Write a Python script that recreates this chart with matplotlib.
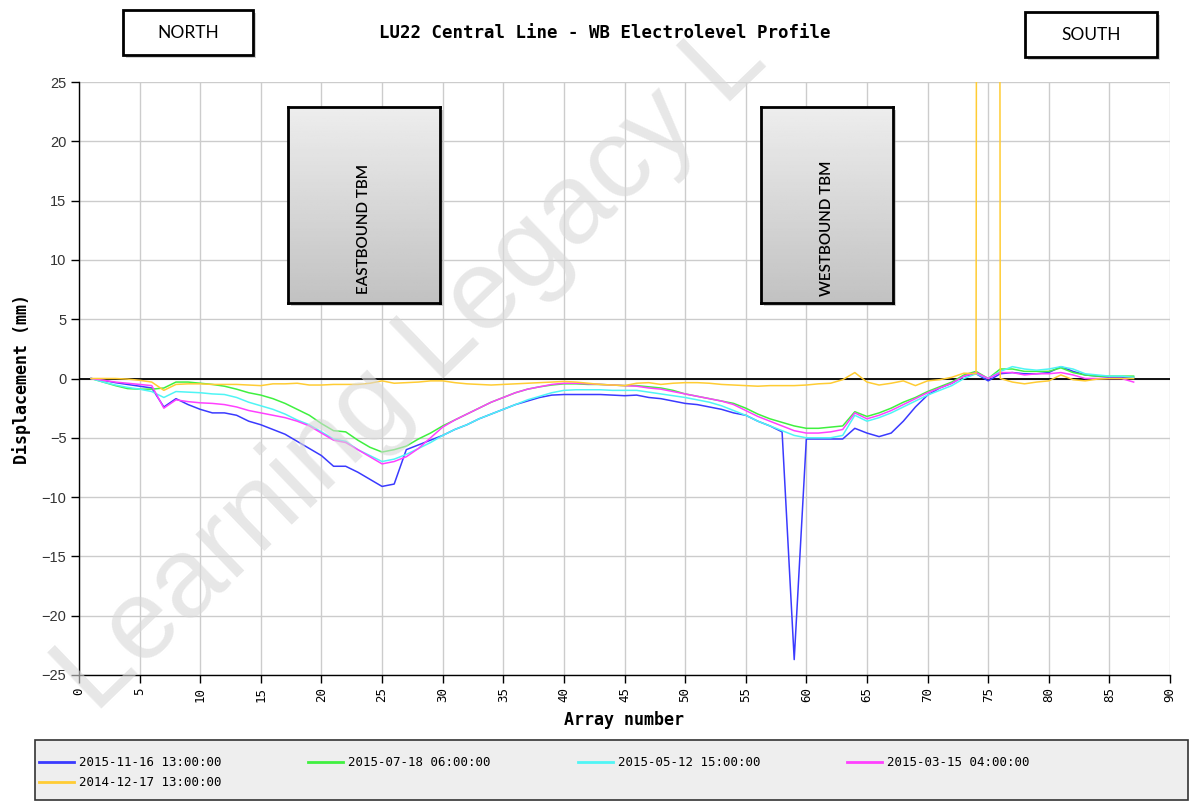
import numpy as np
import matplotlib
matplotlib.use('Agg')
import matplotlib.pyplot as plt
from matplotlib.patches import Rectangle

# electrolevel readings, arrays 1..87 (mm)
array_no = list(range(1, 88))

blue_2015_11_16 = [
    0.0, -0.15, -0.35, -0.5, -0.65, -0.8, -2.4, -1.7, -2.2, -2.6,
    -2.9, -2.9, -3.1, -3.6, -3.9, -4.3, -4.7, -5.3, -5.9, -6.5,
    -7.4, -7.4, -7.9, -8.5, -9.1, -8.9, -6.0, -5.6, -5.2, -4.8,
    -4.3, -3.9, -3.4, -3.0, -2.6, -2.2, -1.9, -1.6, -1.4, -1.35,
    -1.35, -1.35, -1.35, -1.4, -1.45, -1.4, -1.6, -1.7, -1.9, -2.1,
    -2.2, -2.4, -2.6, -2.9, -3.1, -3.6, -4.0, -4.5, -23.7, -5.1,
    -5.1, -5.1, -5.1, -4.2, -4.6, -4.9, -4.6, -3.6, -2.4, -1.4,
    -0.8, -0.4, 0.2, 0.4, -0.2, 0.4, 0.5, 0.4, 0.4, 0.5,
    1.0, 0.6, 0.3, 0.2, 0.1, 0.1, 0.1,
]
green_2015_07_18 = [
    0.0, -0.3, -0.6, -0.85, -0.9, -0.9, -0.8, -0.3, -0.3, -0.4,
    -0.5, -0.65, -0.9, -1.2, -1.4, -1.7, -2.1, -2.6, -3.1, -3.8,
    -4.4, -4.5, -5.2, -5.8, -6.2, -6.0, -5.7, -5.1, -4.6, -4.0,
    -3.5, -3.0, -2.5, -2.0, -1.6, -1.2, -0.9, -0.7, -0.55, -0.45,
    -0.45, -0.5, -0.5, -0.55, -0.6, -0.6, -0.7, -0.8, -1.0, -1.3,
    -1.5, -1.7, -1.9, -2.1, -2.5, -3.0, -3.4, -3.7, -4.0, -4.2,
    -4.2, -4.1, -4.0, -2.8, -3.2, -2.9, -2.5, -2.0, -1.6, -1.1,
    -0.7, -0.3, 0.3, 0.6, 0.0, 0.8, 0.8, 0.6, 0.6, 0.6,
    0.9, 0.5, 0.3, 0.2, 0.2, 0.2, 0.2,
]
cyan_2015_05_12 = [
    0.0, -0.3, -0.55, -0.75, -0.9, -1.1, -1.6, -1.1, -1.15, -1.2,
    -1.3, -1.35, -1.6, -2.0, -2.3, -2.6, -3.0, -3.5, -3.9, -4.5,
    -5.1, -5.3, -6.0, -6.5, -7.0, -6.8, -6.4, -5.9, -5.4, -4.8,
    -4.3, -3.9, -3.4, -3.0, -2.6, -2.2, -1.8, -1.5, -1.2, -1.0,
    -0.95, -0.95, -0.95, -1.0, -1.0, -1.0, -1.15, -1.3, -1.45, -1.6,
    -1.8, -2.0, -2.3, -2.7, -3.1, -3.6, -4.0, -4.4, -4.8, -5.0,
    -5.0, -5.0, -4.8, -3.1, -3.6, -3.3, -2.9, -2.4, -1.9, -1.4,
    -1.0, -0.6, 0.0, 0.4, 0.0, 0.6, 1.0, 0.8, 0.7, 0.8,
    1.0, 0.8, 0.4, 0.3, 0.2, 0.2, 0.1,
]
magenta_2015_03_15 = [
    0.0, -0.15, -0.3, -0.4, -0.5, -0.6, -2.5, -1.8, -1.95, -2.05,
    -2.1, -2.2, -2.4, -2.7, -2.9, -3.1, -3.3, -3.6, -4.0, -4.6,
    -5.2, -5.4, -6.0, -6.6, -7.2, -7.0, -6.6, -5.9, -5.0, -4.1,
    -3.5, -3.0, -2.5, -2.0, -1.6, -1.2, -0.9, -0.7, -0.5, -0.4,
    -0.4, -0.45, -0.5, -0.55, -0.6, -0.65, -0.8, -0.9, -1.1, -1.3,
    -1.5, -1.7, -1.9, -2.2, -2.7, -3.2, -3.6, -4.0, -4.4, -4.6,
    -4.6, -4.5, -4.3, -2.9, -3.4, -3.1, -2.7, -2.2, -1.7, -1.2,
    -0.8, -0.4, 0.2, 0.5, 0.0, 0.5, 0.5, 0.3, 0.4, 0.4,
    0.5, 0.3, 0.0, 0.0, 0.0, 0.0, -0.3,
]
yellow_2014_12_17 = [
    0.0, 0.0, 0.0, -0.05, -0.15, -0.3, -1.0, -0.5, -0.45, -0.45,
    -0.5, -0.5, -0.5, -0.55, -0.6, -0.45, -0.45, -0.4, -0.55, -0.55,
    -0.5, -0.5, -0.5, -0.4, -0.2, -0.4, -0.35, -0.3, -0.2, -0.2,
    -0.35, -0.45, -0.5, -0.55, -0.5, -0.45, -0.4, -0.35, -0.3, -0.25,
    -0.3, -0.4, -0.5, -0.55, -0.6, -0.4, -0.35, -0.5, -0.4, -0.35,
    -0.35, -0.4, -0.5, -0.55, -0.6, -0.65, -0.6, -0.6, -0.6, -0.55,
    -0.45, -0.4, -0.1, 0.5, -0.3, -0.55, -0.4, -0.2, -0.6, -0.2,
    -0.1, 0.1, 0.45, 0.4, 900.0, 0.0, -0.3, -0.45, -0.3, -0.2,
    0.3, -0.1, -0.2, -0.05, 0.0, 0.0, 0.0,
]

series = [
    ('2015-11-16 13:00:00', blue_2015_11_16, '#3a3aff'),
    ('2015-07-18 06:00:00', green_2015_07_18, '#3ff03f'),
    ('2015-05-12 15:00:00', cyan_2015_05_12, '#4ff5f5'),
    ('2015-03-15 04:00:00', magenta_2015_03_15, '#ff40ff'),
    ('2014-12-17 13:00:00', yellow_2014_12_17, '#ffcc33'),
]

W, H = 1192, 802
MONO = 'DejaVu Sans Mono'


def fig_box(x0, y0, x1, y1):
    # pixel box (image coords, y down) -> figure fraction [l, b, w, h]
    return [x0 / W, 1 - y1 / H, (x1 - x0) / W, (y1 - y0) / H]


fig = plt.figure(figsize=(W / 100, H / 100), dpi=100)
ax = fig.add_axes(fig_box(79, 82, 1170, 675))

lines = {}
for label, vals, color in series:
    ln, = ax.plot(array_no, vals, color=color, lw=1.1, label=label, zorder=3)
    lines[label] = ln

ax.axhline(0, color='black', lw=1.3, zorder=2)
ax.set_xlim(0, 90)
ax.set_ylim(-25, 25)
ax.set_xticks(range(0, 91, 5))
ax.set_yticks(range(-25, 26, 5))
ax.grid(True, color='#cccccc', lw=1.0, zorder=0)
ax.set_axisbelow(True)
for side in ['top', 'right']:
    ax.spines[side].set_visible(False)
for side in ['left', 'bottom']:
    ax.spines[side].set_color('black')
    ax.spines[side].set_linewidth(1.0)
ax.tick_params(axis='both', direction='out', length=6, width=1, color='black')
ax.tick_params(axis='y', labelsize=10.5, labelcolor='#333333', pad=3)
ax.tick_params(axis='x', labelsize=9, labelrotation=90, pad=3)
for t in ax.get_yticklabels():
    t.set_fontfamily('Liberation Sans')
for t in ax.get_xticklabels():
    t.set_fontfamily(MONO)

ax.set_xlabel('Array number', fontfamily=MONO, fontweight='bold', fontsize=12, labelpad=6)
ax.set_ylabel('Displacement (mm)', fontfamily=MONO, fontweight='bold', fontsize=12, labelpad=8)

fig.text(605 / W, 1 - 33 / H, 'LU22 Central Line - WB Electrolevel Profile',
         fontfamily=MONO, fontweight='bold', fontsize=12.5, ha='center', va='center')


def label_box(x0, y0, x1, y1, text):
    fig.patches.append(Rectangle((x0 / W + 3 / W, 1 - y1 / H - 3 / H), (x1 - x0) / W, (y1 - y0) / H,
                                 transform=fig.transFigure, facecolor='#999999', alpha=0.45,
                                 edgecolor='none', zorder=4))
    fig.patches.append(Rectangle((x0 / W, 1 - y1 / H), (x1 - x0) / W, (y1 - y0) / H,
                                 transform=fig.transFigure, facecolor='white',
                                 edgecolor='black', lw=2, zorder=5))
    fig.text((x0 + x1) / 2 / W, 1 - (y0 + y1) / 2 / H, text, fontfamily='Lato',
             fontsize=12.5, ha='center', va='center', zorder=6)


label_box(123, 10, 253, 55, 'NORTH')
label_box(1025, 12, 1157, 57, 'SOUTH')


def tbm_box(x0, y0, x1, y1, text):
    fig.patches.append(Rectangle((x0 / W + 3 / W, 1 - y1 / H - 3 / H), (x1 - x0) / W, (y1 - y0) / H,
                                 transform=fig.transFigure, facecolor='#888888', alpha=0.4,
                                 edgecolor='none', zorder=1))
    bax = fig.add_axes(fig_box(x0, y0, x1, y1))
    bax.set_zorder(2)
    grad = np.linspace(0.93, 0.76, 100).reshape(-1, 1)
    bax.imshow(grad, aspect='auto', cmap='gray', vmin=0, vmax=1, extent=(0, 1, 0, 1))
    bax.set_xticks([])
    bax.set_yticks([])
    for sp in bax.spines.values():
        sp.set_color('black')
        sp.set_linewidth(2)
    bax.text(0.5, 0.38, text, rotation=90, ha='center', va='center', fontfamily='Lato',
             fontweight='semibold', fontsize=11, transform=bax.transAxes)


tbm_box(288, 107, 440, 303, 'EASTBOUND TBM')
tbm_box(761, 107, 893, 303, 'WESTBOUND TBM')

# legend panel
fig.patches.append(Rectangle((35 / W, 1 - 800 / H), (1188 - 35) / W, 60 / H,
                             transform=fig.transFigure, facecolor='#eeeeee',
                             edgecolor='#333333', lw=1.2, zorder=1))
order = ['2015-11-16 13:00:00', '2014-12-17 13:00:00', '2015-07-18 06:00:00',
         '2015-05-12 15:00:00', '2015-03-15 04:00:00']
leg = fig.legend([lines[k] for k in order], order, ncol=4, loc='upper left',
                 bbox_to_anchor=(39 / W, 1 - 756 / H), frameon=False,
                 prop={'family': MONO, 'size': 9}, handlelength=2.8,
                 handletextpad=0.4, columnspacing=6.95, labelspacing=0.55,
                 borderpad=0, borderaxespad=0)
for h in leg.legend_handles:
    h.set_linewidth(2)

fig.text(95 / W, 1 - 715 / H, 'Learning Legacy L', rotation=44, rotation_mode='anchor',
         ha='left', va='baseline', fontfamily='Liberation Sans', fontsize=82,
         color='#d8d8d8', alpha=0.6, zorder=10)

fig.savefig('out.png', dpi=100)
